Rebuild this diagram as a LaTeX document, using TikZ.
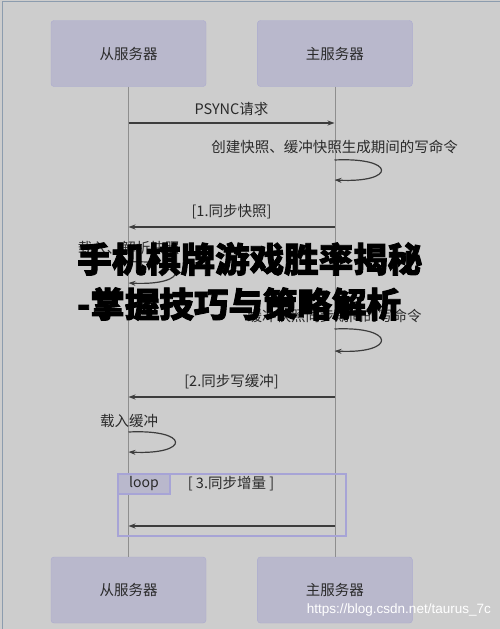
\documentclass[tikz,border=0pt]{standalone}
\usepackage{fontspec}
\setmainfont{Noto Sans CJK SC}
\newfontfamily\headfont{Noto Sans CJK SC}[BoldFeatures={FakeBold=2.5}]
\newfontfamily\urlfont{Liberation Sans}
\usetikzlibrary{arrows.meta,positioning}

\definecolor{bggray}{HTML}{CDCDCD}
\definecolor{framecol}{HTML}{8C9CAE}
\definecolor{boxfill}{HTML}{B9B8CC}
\definecolor{boxline}{HTML}{ABAAD0}
\definecolor{lifegray}{HTML}{8E8E8E}
\definecolor{msgline}{HTML}{3C3C3C}
\definecolor{textgray}{HTML}{2A2A2A}
\definecolor{loopline}{HTML}{A7A4D6}

\begin{document}
\begin{tikzpicture}
      [x=1pt, y=-1pt, >={Stealth[length=7pt,width=5pt]},
      server/.style={rectangle, draw=boxline, fill=boxfill, rounded corners=3pt,
        minimum width=155pt, minimum height=66pt, inner sep=0pt,
        font=\fontsize{14.5}{16}\selectfont, text=textgray},
      lifeline/.style={draw=lifegray, line width=0.8pt},
      msg/.style={->, draw=msgline, line width=1.2pt},
      note/.style={font=\fontsize{14.5}{16}\selectfont, text=textgray, inner sep=0pt},
      loopbox/.style={rectangle, draw=loopline, line width=1.2pt,
        minimum width=228pt, minimum height=62pt, inner sep=0pt},
      looptab/.style={rectangle, draw=loopline, fill=boxfill, line width=1.2pt,
        minimum width=52pt, minimum height=20pt, inner sep=0pt,
        font=\fontsize{14}{16}\selectfont, text=textgray},
      headline/.style={font=\headfont\fontsize{34.5}{38}\selectfont\bfseries, text=black,
        inner sep=0pt, anchor=west}]

      \useasboundingbox (0,0) rectangle (500,629);
      \fill [bggray] (0,0) rectangle (500,629);
      \draw [framecol, line width=1pt] (2,629) |- (500,1);

      % participants
      \node [server] (slaveTop) at (128.5,53.5) {从服务器};
      \node [server, right=51pt of slaveTop] (masterTop) {主服务器};
      \node [server] (slaveBot) at (128.5,590) {从服务器};
      \node [server, right=51pt of slaveBot] (masterBot) {主服务器};

      \draw [lifeline] (slaveTop) -- (slaveBot);
      \draw [lifeline] (masterTop) -- (masterBot);

      % points on the lifelines
      \foreach \name/\y in {psync/123, snap/227, buf/397, incr/526,
                            la/160, lb/180, lc/329, ld/351, le/262, lf/283, lg/432, lh/452}
        {
          \coordinate (s-\name) at (128.5,\y);
          \coordinate (m-\name) at (334.5,\y);
        }

      % messages
      \draw [msg] (s-psync) -- node [note, above=7pt] {PSYNC请求} (m-psync);

      \node [note] (mkSnap) at (334.5,147) {创建快照、缓冲快照生成期间的写命令};
      \draw [msg] (m-la) .. controls +(62,-3) and +(62,3) .. (m-lb);

      \draw [msg] (m-snap) -- node [note, above=7pt] {[1.同步快照]} (s-snap);

      \node [note] (loadSnap) at (128.5,248) {载入、解析快照};
      \draw [msg] (s-le) .. controls +(62,-3) and +(62,3) .. (s-lf);

      \node [note] (keepBuf) at (334.5,316) {缓冲快照同步期间的写命令};
      \draw [msg] (m-lc) .. controls +(62,-3) and +(62,3) .. (m-ld);

      \draw [msg] (m-buf) -- node [note, above=7pt] {[2.同步写缓冲]} (s-buf);

      \node [note] (loadBuf) at (129,421) {载入缓冲};
      \draw [msg] (s-lg) .. controls +(62,-3) and +(62,3) .. (s-lh);

      % loop fragment
      \node [loopbox] (loopFrame) at (232,505) {};
      \node [looptab, anchor=north west] (loopTab) at (loopFrame.north west) {loop};
      \node [note] (loopCond) at (231,484) {[ 3.同步增量 ]};
      \draw [msg] (m-incr) -- (s-incr);

      % overlay text
      \node [headline] (headA) at (77,259) {手机棋牌游戏胜率揭秘};
      \node [headline] (headB) at (77,304) {-掌握技巧与策略解析};

      \node [anchor=east, text=white, inner sep=0pt,
        font=\urlfont\fontsize{13.5}{15}\selectfont] (mark) at (491,610)
        {https://blog.csdn.net/taurus\_7c};
\end{tikzpicture}
\end{document}
